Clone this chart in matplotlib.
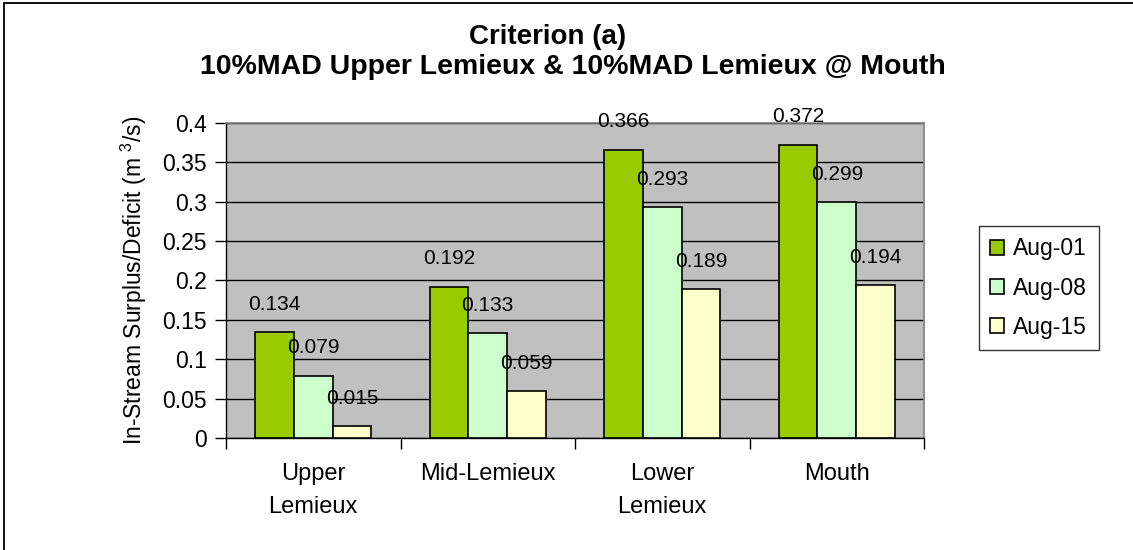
import matplotlib.pyplot as plt
from matplotlib.patches import Rectangle
import numpy as np

plt.rcParams['font.family'] = ['Liberation Sans', 'DejaVu Sans']
plt.rcParams['mathtext.fontset'] = 'custom'
plt.rcParams['mathtext.rm'] = 'Liberation Sans'

# data
categories = ['Upper\nLemieux', 'Mid-Lemieux', 'Lower\nLemieux', 'Mouth']
series = ['Aug-01', 'Aug-08', 'Aug-15']
aug01 = [0.134, 0.192, 0.366, 0.372]
aug08 = [0.079, 0.133, 0.293, 0.299]
aug15 = [0.015, 0.059, 0.189, 0.194]
colors = ['#99CC00', '#CCFFCC', '#FFFFCC']

W, H = 1133, 550
fig = plt.figure(figsize=(W / 100, H / 100), dpi=100)

# outer chart border (left and top visible)
fig.add_artist(Rectangle((3.5 / W, -0.1), 1.2, 1.1 - 2.5 / H, transform=fig.transFigure,
                         fill=False, edgecolor='black', linewidth=1.3))

ax = fig.add_axes([226 / W, (H - 438) / H, 698 / W, (438 - 122.7) / H])
ax.set_facecolor('#C0C0C0')

x = np.arange(len(categories))
w = 1 / 4.5
for i, (name, vals) in enumerate(zip(series, [aug01, aug08, aug15])):
    bars = ax.bar(x + (i - 1) * w, vals, w, color=colors[i], edgecolor='black',
                  linewidth=1.2, label=name, zorder=3)
    for b, v in zip(bars, vals):
        ax.annotate(f'{v:.3f}', (b.get_x() + b.get_width() / 2, v),
                    xytext=(0, 20), textcoords='offset points',
                    ha='center', va='center', fontsize=15, zorder=4)

ax.set_xlim(-0.5, len(categories) - 0.5)
ax.set_ylim(0, 0.4)
ax.set_yticks(np.arange(0, 0.41, 0.05))
ax.set_yticklabels(['0', '0.05', '0.1', '0.15', '0.2', '0.25', '0.3', '0.35', '0.4'])
ax.yaxis.grid(True, color='black', linewidth=1, zorder=1)
ax.set_axisbelow(True)

ax.set_xticks(np.arange(-0.5, len(categories), 1))
ax.set_xticklabels([])
ax.set_xticks(x, minor=True)
ax.set_xticklabels(categories, minor=True, fontsize=17, linespacing=1.65, va='top')
ax.tick_params(axis='x', which='major', direction='out', length=8, width=1)
ax.tick_params(axis='x', which='minor', length=0, pad=18)
ax.tick_params(axis='y', direction='out', length=8, width=1, labelsize=16.5, pad=6)

for s in ['top', 'right']:
    ax.spines[s].set_color('#808080')
    ax.spines[s].set_linewidth(1.2)
for s in ['left', 'bottom']:
    ax.spines[s].set_color('black')
    ax.spines[s].set_linewidth(1)

ax.set_ylabel('In-Stream Surplus/Deficit (m $^{3}$/s)', fontsize=16.5)
ax.yaxis.set_label_coords(-0.111, 0.5)

fig.text(548 / W, (H - 37) / H, 'Criterion (a)', ha='center', va='center',
         fontsize=20, fontweight='bold')
fig.text(573 / W, (H - 67) / H, '10%MAD Upper Lemieux & 10%MAD Lemieux @ Mouth',
         ha='center', va='center', fontsize=20.5, fontweight='bold')

leg = ax.legend(loc='upper left', bbox_to_anchor=(979 / W, (H - 226) / H),
                bbox_transform=fig.transFigure, frameon=True, fancybox=False,
                edgecolor='black', fontsize=16.5, handlelength=0.6, handleheight=0.6,
                handletextpad=0.4, labelspacing=0.7, borderpad=0.5, borderaxespad=0)
leg.get_frame().set_linewidth(1)

fig.savefig('out.png', dpi=100)
